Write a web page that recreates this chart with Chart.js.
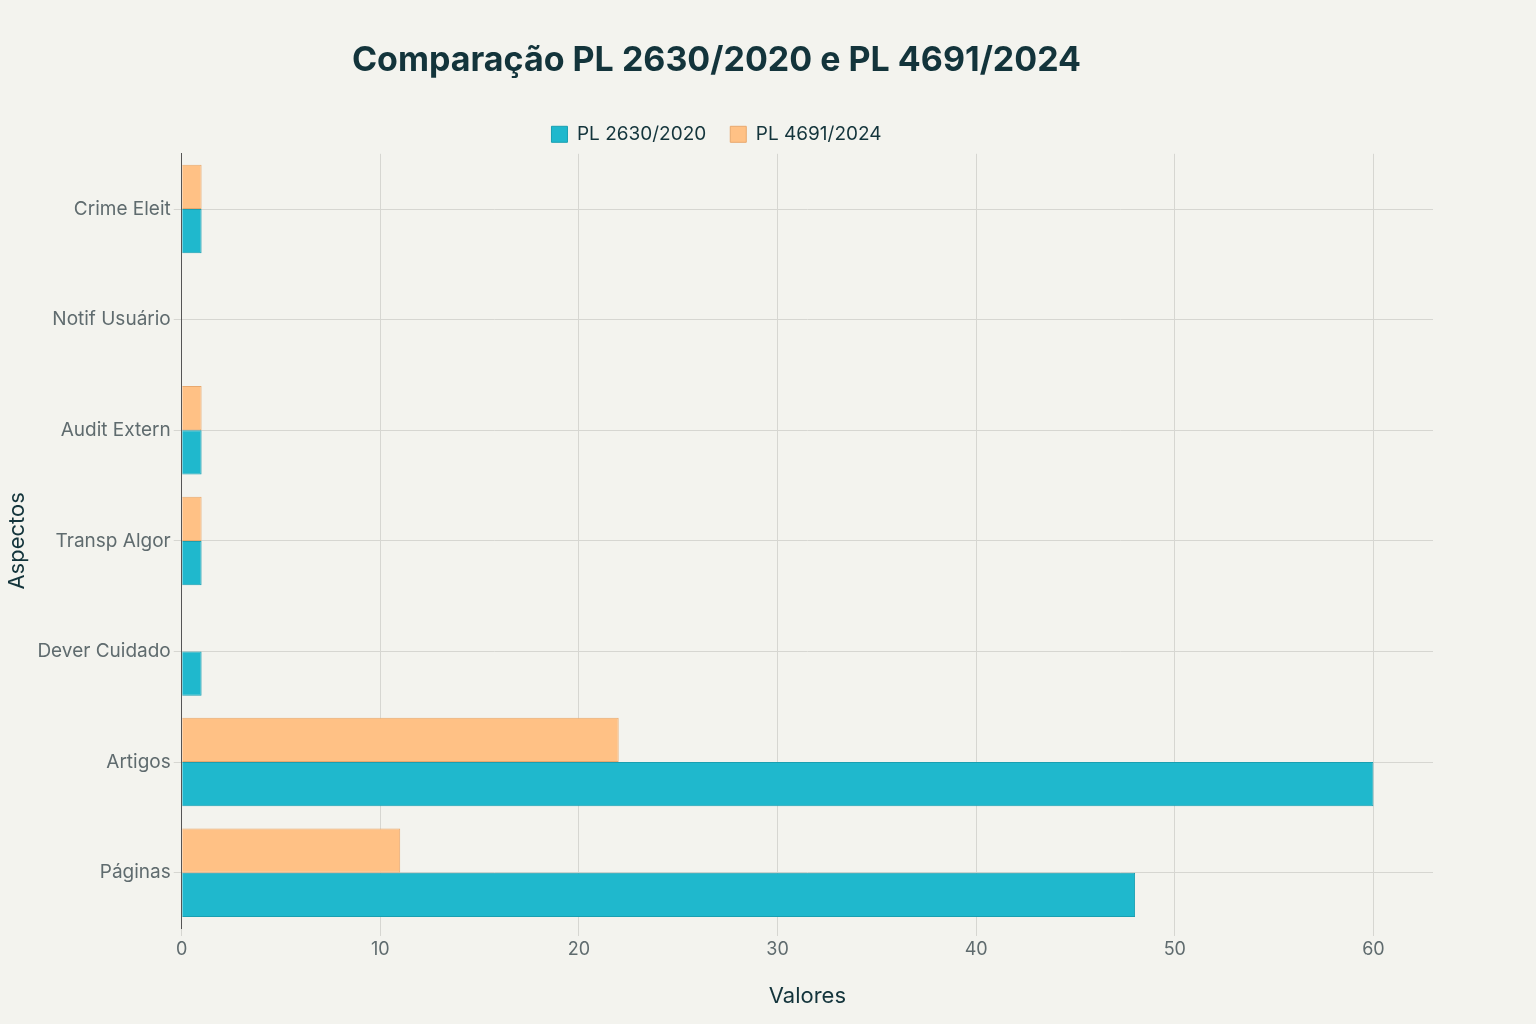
<!DOCTYPE html>
<html><head><meta charset="utf-8">
<script src="https://cdn.jsdelivr.net/npm/chart.js@4"></script>
<style>html,body{margin:0;background:#F3F3EE;}#w{width:1536px;height:1024px;}</style>
</head><body><div id="w"><canvas id="c" width="1536" height="1024"></canvas></div>
<script>
const categories = ["Crime Eleit","Notif Usuário","Audit Extern","Transp Algor","Dever Cuidado","Artigos","Páginas"];
const pl2630 = [1,0,1,1,1,60,48];
const pl4691 = [1,0,1,1,0,22,11];
const xTicks = [0,10,20,30,40,50,60];
const font = "Inter, 'Open Sans', sans-serif";
new Chart(document.getElementById('c'), {
  type: 'bar',
  data: { labels: categories, datasets: [
    {label:'PL 4691/2024', data: pl4691, backgroundColor:'#FFC185', borderColor:'#E8A86E', borderWidth:1},
    {label:'PL 2630/2020', data: pl2630, backgroundColor:'#1FB8CD', borderColor:'#199FB1', borderWidth:1}
  ]},
  options: {
    indexAxis:'y', responsive:false, animation:false,
    categoryPercentage:0.8, barPercentage:1,
    layout:{padding:{left:0,right:103,top:10,bottom:10}},
    plugins:{
      title:{display:true,text:'Comparação PL 2630/2020 e PL 4691/2024',color:'#13343B',font:{family:font,size:34,weight:'bold'},padding:{top:30,bottom:20}},
      legend:{reverse:true,labels:{color:'#13343B',font:{family:font,size:19},boxWidth:16,boxHeight:16,padding:24},padding:0},
    },
    scales:{
      x:{min:0,max:63,afterBuildTicks:a=>{a.ticks=xTicks.map(v=>({value:v}));},
         grid:{color:'#D6D6D1'},border:{display:false},
         ticks:{color:'#5F6B6E',font:{family:font,size:18}},
         title:{display:true,text:'Valores',color:'#13343B',font:{family:font,size:22},padding:{top:20}}},
      y:{grid:{color:'#D6D6D1',offset:false},border:{color:'#555'},
         ticks:{color:'#5F6B6E',font:{family:font,size:19}},
         title:{display:true,text:'Aspectos',color:'#13343B',font:{family:font,size:22}}}
    }
  }
});
</script></body></html>
